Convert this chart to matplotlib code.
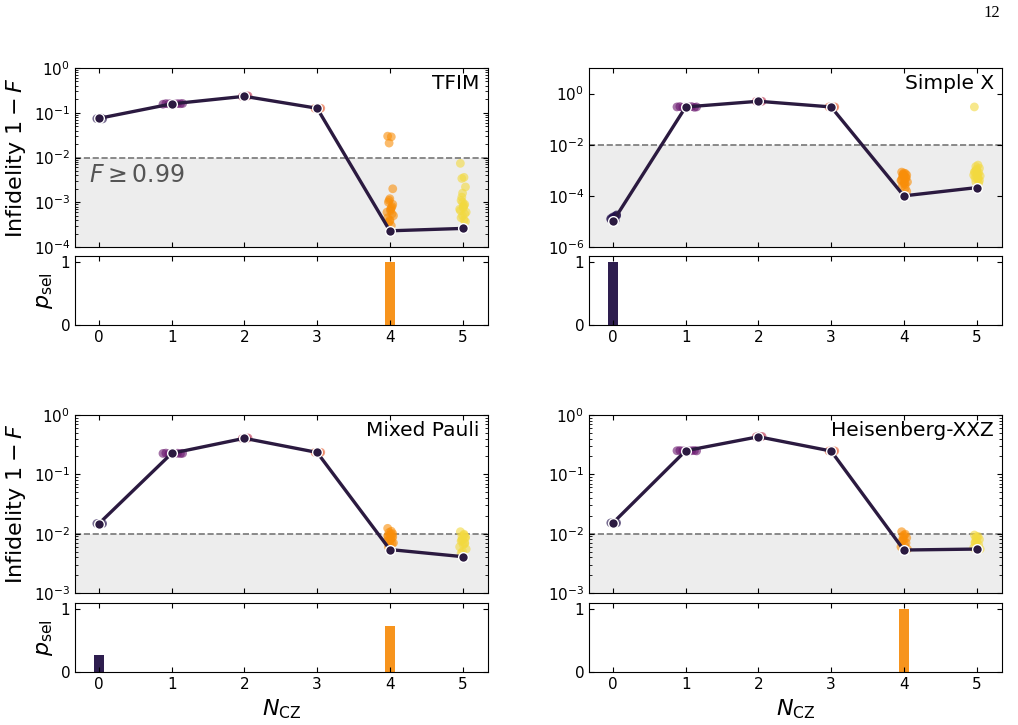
import matplotlib
matplotlib.use("Agg")
import matplotlib.pyplot as plt
import numpy as np

n_cz = [0, 1, 2, 3, 4, 5]
colors = ['#1f0c48', '#6a176e', '#bc3754', '#e55c30', '#f98e09', '#f3d93f']
bar_colors = ['#2e1e4f', '#6a176e', '#bc3754', '#e55c30', '#f7941d', '#f3d93f']
line_color = '#2b1a40'

titles = ['TFIM', 'Simple X', 'Mixed Pauli', 'Heisenberg-XXZ']

# best infidelity per N_CZ
best_tfim = [0.075, 0.158, 0.233, 0.126, 2.3e-4, 2.6e-4]
best_simplex = [1.0e-5, 0.30, 0.50, 0.30, 1.0e-4, 2.1e-4]
best_mixed = [0.0148, 0.226, 0.405, 0.234, 5.4e-3, 4.1e-3]
best_heis = [0.0152, 0.25, 0.43, 0.247, 5.3e-3, 5.5e-3]

# selection probability
psel_tfim = [0, 0, 0, 0, 1.0, 0]
psel_simplex = [1.0, 0, 0, 0, 0, 0]
psel_mixed = [0.27, 0, 0, 0, 0.73, 0]
psel_heis = [0, 0, 0, 0, 1.0, 0]

# individual runs: (x offsets, infidelities) per N_CZ
jit_wide = [-0.12, -0.08, -0.04, 0.0, 0.04, 0.08, 0.12, 0.15]
jit_small = [-0.03, 0.0, 0.03, 0.05]
jit_col = [-0.03, 0.02, -0.01, 0.04, 0.0, -0.02, 0.03, 0.01, -0.04, 0.05,
           0.0, -0.02, 0.02, 0.04, -0.01, 0.03, -0.03, 0.01, 0.0, 0.02]

runs_tfim = [
    [0.074, 0.075, 0.076, 0.073],
    [0.155, 0.160, 0.158, 0.162, 0.157, 0.160, 0.159, 0.161],
    [0.230, 0.240, 0.235, 0.238],
    [0.125, 0.127, 0.124, 0.126],
    [0.030, 0.029, 0.021, 2.0e-3, 1.2e-3, 1.0e-3, 8e-4, 7e-4, 6e-4, 5e-4,
     4e-4, 3.5e-4, 3e-4, 9e-4, 1.1e-3, 5.5e-4, 4.5e-4, 6.5e-4, 3.8e-4, 7.5e-4],
    [7.4e-3, 3.6e-3, 3.4e-3, 2.2e-3, 1.6e-3, 1.1e-3, 9e-4, 8e-4, 7e-4, 6e-4,
     5e-4, 4.5e-4, 4e-4, 3.7e-4, 1.3e-3, 5.5e-4, 6.5e-4, 7.5e-4, 1.0e-3, 8.5e-4],
]
runs_simplex = [
    [1.2e-5, 1.4e-5, 1.6e-5, 1.8e-5, 1.3e-5, 1.5e-5, 1.1e-5, 1.7e-5],
    [0.30, 0.31, 0.29, 0.30, 0.30, 0.31, 0.29, 0.30],
    [0.50, 0.51, 0.49, 0.50],
    [0.30, 0.31, 0.29, 0.30],
    [8.5e-4, 7.5e-4, 7e-4, 6.5e-4, 6e-4, 5.5e-4, 5e-4, 4.5e-4, 4e-4, 3.5e-4,
     3e-4, 2.5e-4, 2e-4, 1.5e-4, 6.8e-4, 5.2e-4, 4.2e-4, 3.2e-4, 7.8e-4, 2.8e-4],
    [0.30, 1.6e-3, 1.4e-3, 1.2e-3, 1.0e-3, 9e-4, 8e-4, 7e-4, 6.5e-4, 6e-4,
     5.5e-4, 5e-4, 4.5e-4, 4e-4, 3.5e-4, 3.2e-4, 8.5e-4, 7.5e-4, 1.1e-3, 5.2e-4],
]
runs_mixed = [
    [0.0148, 0.0149, 0.0147, 0.0148],
    [0.225, 0.228, 0.222, 0.226, 0.224, 0.227, 0.223, 0.226],
    [0.40, 0.41, 0.405, 0.41],
    [0.234, 0.236, 0.232, 0.235],
    [0.0123, 0.011, 0.0105, 0.0100, 0.0095, 0.009, 0.0085, 0.008, 0.0075,
     0.007, 0.0065, 0.006, 0.0098, 0.0088, 0.0078, 0.0068, 0.0092, 0.0082],
    [0.0108, 0.0098, 0.009, 0.0085, 0.008, 0.0075, 0.007, 0.0065, 0.006,
     0.0055, 0.005, 0.0047, 0.0095, 0.0088, 0.0078, 0.0068],
]
runs_heis = [
    [0.0152, 0.0153, 0.0151, 0.0152],
    [0.25, 0.252, 0.248, 0.251, 0.249, 0.25, 0.252, 0.248],
    [0.43, 0.44, 0.425, 0.435],
    [0.247, 0.25, 0.245, 0.248],
    [0.0108, 0.0098, 0.009, 0.0085, 0.008, 0.0075, 0.007, 0.0065, 0.006,
     0.0055, 0.0095, 0.0078],
    [0.0095, 0.009, 0.0085, 0.008, 0.0075, 0.007, 0.0065, 0.006, 0.0058,
     0.0055, 0.0088, 0.0072],
]

best_all = [best_tfim, best_simplex, best_mixed, best_heis]
psel_all = [psel_tfim, psel_simplex, psel_mixed, psel_heis]
runs_all = [runs_tfim, runs_simplex, runs_mixed, runs_heis]
ylims = [(1e-4, 1e0), (1e-6, 1e1), (1e-3, 1e0), (1e-3, 1e0)]
yticks = [[1e-4, 1e-3, 1e-2, 1e-1, 1e0], [1e-6, 1e-4, 1e-2, 1e0],
          [1e-3, 1e-2, 1e-1, 1e0], [1e-3, 1e-2, 1e-1, 1e0]]

W, H = 1018, 725
fig = plt.figure(figsize=(W / 100, H / 100), dpi=100)

lefts = [75, 589, 75, 589]
main_tops = [68, 68, 415, 415]
main_bots = [247, 247, 593, 593]
bar_tops = [256, 256, 603, 603]
bar_bots = [325, 325, 672, 672]
ax_w = 413


def box(l, t, b):
    return [l / W, 1 - b / H, ax_w / W, (b - t) / H]


for i in range(4):
    ax = fig.add_axes(box(lefts[i], main_tops[i], main_bots[i]))
    bx = fig.add_axes(box(lefts[i], bar_tops[i], bar_bots[i]))
    ax.set_yscale('log')
    ax.set_ylim(*ylims[i])
    ax.set_xlim(-0.33, 5.35)
    ax.axhspan(ylims[i][0], 1e-2, color='#ededed', zorder=0, lw=0)
    ax.axhline(1e-2, color='#777777', ls='--', lw=1.2, zorder=1)
    for k, n in enumerate(n_cz):
        vals = runs_all[i][k]
        if k in (1,):
            offs = [jit_wide[j % len(jit_wide)] for j in range(len(vals))]
        elif k in (0, 2, 3):
            offs = [jit_small[j % len(jit_small)] for j in range(len(vals))]
        else:
            offs = [jit_col[j % len(jit_col)] for j in range(len(vals))]
        ax.scatter(np.array(offs) + n, vals, s=40, color=colors[k], alpha=0.6,
                   edgecolors='none', zorder=2)
    ax.plot(n_cz, best_all[i], color=line_color, lw=2.4, marker='o', ms=7,
            mfc=line_color, mec='white', mew=1.0, zorder=4)
    ax.set_yticks(yticks[i])
    ax.set_xticks(n_cz)
    ax.tick_params(which='both', direction='in', top=True, right=True,
                   labelsize=11)
    ax.tick_params(axis='x', labelbottom=False)
    ax.text(0.98, 0.965, titles[i], transform=ax.transAxes, ha='right',
            va='top', fontsize=14.5)
    if i == 0:
        ax.text(0.035, 0.40, r'$F \geq 0.99$', transform=ax.transAxes,
                ha='left', va='center', fontsize=17, color='#555555')
    if i % 2 == 0:
        ax.set_ylabel(r'Infidelity $1-F$', fontsize=16)

    bx.bar(n_cz, psel_all[i], width=0.14, color=bar_colors)
    bx.set_xlim(-0.33, 5.35)
    bx.set_ylim(0, 1.1)
    bx.set_yticks([0, 1])
    bx.set_xticks(n_cz)
    bx.tick_params(direction='in', top=True, right=True, labelsize=11)
    if i % 2 == 0:
        bx.set_ylabel(r'$p_{\rm sel}$', fontsize=16)
    if i >= 2:
        bx.set_xlabel(r'$N_{\rm CZ}$', fontsize=16)

fig.align_ylabels()
fig.text(1000 / W, 1 - 13 / H, '12', ha='right', va='center', fontsize=12,
         family='Liberation Serif')

fig.savefig('out.png', dpi=100)
